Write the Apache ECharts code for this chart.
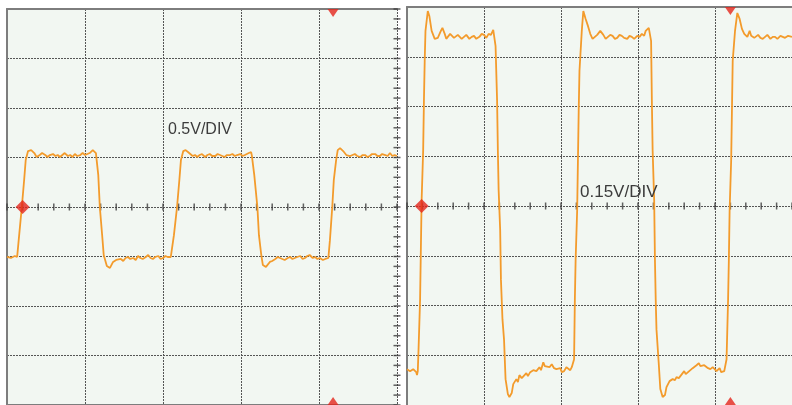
<!DOCTYPE html>
<html>
<head>
<meta charset="utf-8">
<script src="https://cdn.jsdelivr.net/npm/echarts@6/dist/echarts.min.js"></script>
<style>html,body{margin:0;padding:0;background:#fff;}#c{width:792px;height:405px;}</style>
</head>
<body>
<div id="c"></div>
<script>
// Units: x = horizontal divisions (0..5), y = vertical divisions (-4..4)
const leftLabel = '0.5V/DIV';
const rightLabel = '0.15V/DIV';

const leftWave = [
[0,-1.01],[0.05,-1.03],[0.10,-0.99],[0.13,-1.01],[0.15,-0.67],[0.19,0],[0.22,0.55],[0.24,0.95],[0.27,1.13],[0.31,1.15],
[0.35,1.09],[0.38,1.01],[0.42,1.05],[0.45,1.09],[0.49,1.05],[0.52,1.01],[0.55,1.05],[0.59,1.07],[0.62,1.03],[0.65,1.05],
[0.68,1.01],[0.71,1.05],[0.74,1.09],[0.78,1.03],[0.81,1.05],[0.84,1.01],[0.87,1.07],[0.90,1.03],[0.94,1.05],[0.97,1.09],
[1.00,1.05],[1.03,1.07],[1.06,1.09],[1.10,1.15],[1.12,1.13],[1.14,1.09],[1.17,0.65],[1.19,0],[1.22,-0.57],[1.24,-0.97],[1.28,-1.19],
[1.32,-1.23],[1.36,-1.11],[1.40,-1.07],[1.42,-1.03],[1.46,-1.05],[1.49,-1.09],[1.52,-1.03],[1.55,-1.01],[1.58,-1.05],[1.62,-1.03],
[1.65,-1.07],[1.68,-0.99],[1.71,-1.03],[1.74,-1.05],[1.78,-1.01],[1.81,-0.97],[1.84,-1.03],[1.87,-1.05],[1.90,-1.01],
[1.94,-0.99],[1.97,-1.05],[2.00,-1.03],[2.03,-0.99],[2.06,-1.01],[2.10,-1.01],[2.14,-0.57],[2.18,0],[2.21,0.55],[2.23,0.95],[2.26,1.13],[2.29,1.15],
[2.32,1.11],[2.35,1.07],[2.38,1.03],[2.41,1.05],[2.44,1.01],[2.47,1.05],[2.50,1.07],[2.54,1.01],[2.57,1.05],[2.60,1.07],[2.63,1.03],
[2.67,1.03],[2.70,1.07],[2.73,1.05],[2.76,1.03],[2.79,1.01],[2.82,1.05],[2.86,1.05],[2.89,1.07],[2.92,1.03],[2.95,1.05],
[2.99,1.07],[3.02,1.03],[3.05,1.05],[3.10,1.09],[3.13,1.11],[3.14,1.03],[3.17,0.65],[3.21,0],[3.23,-0.57],[3.26,-0.97],[3.28,-1.17],
[3.32,-1.21],[3.37,-1.11],[3.40,-1.09],[3.44,-1.05],[3.47,-1.01],[3.50,-1.03],[3.53,-1.05],[3.56,-1.07],[3.60,-1.03],[3.63,-1.01],
[3.66,-1.05],[3.69,-1.03],[3.72,-1.01],[3.76,-0.99],[3.79,-1.05],[3.82,-1.03],[3.85,-0.99],[3.88,-0.97],[3.92,-1.03],
[3.95,-1.01],[3.98,-1.05],[4.01,-1.03],[4.05,-1.07],[4.08,-1.05],[4.12,-1.03],[4.14,-0.67],[4.17,0],[4.19,0.55],[4.22,0.95],[4.24,1.15],[4.27,1.19],
[4.31,1.13],[4.35,1.05],[4.37,1.09],[4.40,1.03],[4.43,1.05],[4.46,1.07],[4.49,1.03],[4.53,1.01],[4.56,1.05],[4.59,1.05],
[4.62,1.01],[4.65,1.03],[4.68,1.07],[4.72,1.07],[4.75,1.03],[4.78,1.03],[4.81,1.07],[4.85,1.05],[4.88,1.03],
[4.91,1.09],[4.94,1.03],[4.97,1.05],[5.00,1.03]
];

const rightWave = [
[0,-3.28],[0.04,-3.32],[0.08,-3.28],[0.12,-3.34],[0.13,-3.40],[0.14,-3.32],[0.15,-2.88],[0.17,-1.88],[0.18,-0.88],[0.19,0.12],
[0.21,1.12],[0.22,2.12],[0.23,2.92],[0.24,3.52],[0.27,3.92],[0.29,3.82],[0.32,3.52],[0.36,3.36],[0.40,3.38],[0.44,3.52],
[0.46,3.58],[0.49,3.46],[0.51,3.36],[0.53,3.40],[0.56,3.46],[0.58,3.42],[0.61,3.38],[0.63,3.36],[0.66,3.44],[0.68,3.42],[0.71,3.36],[0.74,3.40],
[0.77,3.44],[0.81,3.36],[0.84,3.40],[0.87,3.42],[0.90,3.36],[0.94,3.40],[0.97,3.46],
[1.00,3.44],[1.03,3.38],[1.06,3.46],[1.09,3.44],[1.12,3.54],[1.14,3.56],[1.15,3.22],[1.17,2.12],[1.18,1.12],[1.19,0.32],[1.21,-0.48],[1.22,-1.48],
[1.24,-2.28],[1.26,-2.68],[1.28,-3.48],[1.31,-3.78],[1.33,-3.84],[1.36,-3.76],[1.38,-3.58],[1.42,-3.48],[1.44,-3.54],[1.46,-3.40],[1.49,-3.46],[1.51,-3.44],
[1.55,-3.36],[1.57,-3.42],[1.60,-3.34],[1.62,-3.38],[1.64,-3.30],[1.68,-3.32],[1.72,-3.24],[1.74,-3.30],[1.77,-3.14],[1.79,-3.22],[1.81,-3.20],[1.85,-3.24],[1.88,-3.18],[1.91,-3.26],[1.94,-3.28],
[1.99,-3.26],[2.01,-3.34],[2.04,-3.32],[2.07,-3.24],[2.09,-3.26],[2.12,-3.30],[2.14,-3.24],[2.17,-3.08],[2.18,-1.88],[2.19,-1.08],[2.21,-0.08],[2.22,0.92],[2.23,1.92],
[2.24,2.72],[2.27,3.52],[2.29,3.92],[2.32,3.76],[2.35,3.62],[2.38,3.46],[2.41,3.36],[2.44,3.40],[2.47,3.44],[2.51,3.52],[2.55,3.44],
[2.58,3.36],[2.60,3.38],[2.64,3.44],[2.67,3.42],[2.70,3.36],[2.73,3.38],[2.76,3.44],[2.79,3.42],[2.82,3.38],[2.86,3.36],[2.89,3.42],[2.92,3.40],[2.95,3.36],[2.99,3.42],[3.02,3.40],[3.05,3.46],[3.08,3.42],[3.10,3.52],[3.14,3.58],
[3.17,3.32],[3.18,2.12],[3.19,1.12],[3.21,0.12],[3.22,-1.08],[3.23,-1.88],[3.24,-2.48],[3.27,-3.18],[3.29,-3.68],[3.32,-3.84],
[3.35,-3.80],[3.37,-3.64],[3.41,-3.52],[3.43,-3.56],[3.45,-3.48],[3.48,-3.50],[3.50,-3.44],[3.53,-3.46],[3.55,-3.42],[3.57,-3.38],[3.60,-3.32],[3.62,-3.38],[3.65,-3.34],[3.68,-3.30],[3.71,-3.26],[3.76,-3.20],
[3.79,-3.16],[3.81,-3.22],[3.83,-3.22],[3.86,-3.20],[3.88,-3.24],[3.91,-3.26],[3.94,-3.28],[3.97,-3.24],[3.99,-3.26],[4.02,-3.32],[4.04,-3.30],[4.06,-3.26],[4.08,-3.34],[4.12,-3.32],[4.14,-3.28],[4.15,-3.08],
[4.17,-1.88],[4.18,-1.08],[4.19,-0.08],[4.21,0.92],[4.22,1.92],[4.23,2.92],[4.26,3.52],[4.29,3.88],[4.32,3.76],[4.35,3.56],
[4.38,3.46],[4.42,3.40],[4.45,3.52],[4.47,3.42],[4.49,3.44],[4.51,3.38],[4.53,3.42],[4.56,3.44],[4.59,3.38],[4.62,3.36],[4.65,3.40],[4.68,3.44],[4.72,3.36],[4.75,3.40],[4.78,3.40],[4.81,3.36],[4.85,3.42],[4.88,3.40],
[4.91,3.38],[4.95,3.42],[5.00,3.40]
];

// trigger-level diamond and trigger-position markers
const leftTrigLevel = [[0.2, 0]];
const rightTrigLevel = [[0.19, 0]];
const leftTrigTop = [[4.18, 4]];
const leftTrigBottom = [[4.18, -4]];
const rightTrigTop = [[4.2, 4]];
const rightTrigBottom = [[4.2, -4]];

// graticule minor tick positions (divisions, 5 per division)
const minorStep = 0.2;
const hTicks = [];
for (let i = 0; i <= 25; i++) hTicks.push([+(i * minorStep).toFixed(2), 0]);
const vTicks = [];
for (let i = -20; i <= 20; i++) vTicks.push([5, +(i * minorStep).toFixed(2)]);

const BG = '#f2f7f2';
const GRID_C = '#555555';
const BORDER_C = '#7d7d7d';
const TRACE_C = '#f39b2c';
const RED = '#e4261c';

const chart = echarts.init(document.getElementById('c'), null, {renderer: 'canvas'});

function xAx(grid, pos, split, line) {
  return {
    type: 'value', gridIndex: grid, min: 0, max: 5, interval: 1, position: pos,
    axisLine: {show: line, onZero: false, lineStyle: {color: BORDER_C, width: 2}},
    axisTick: {show: false}, axisLabel: {show: false},
    splitLine: {show: split, lineStyle: {color: GRID_C, width: 1, type: [2, 1]}}
  };
}
function yAx(grid) {
  return {
    type: 'value', gridIndex: grid, min: -4, max: 4, interval: 1,
    axisLine: {show: true, onZero: false, lineStyle: {color: BORDER_C, width: 2}},
    axisTick: {show: false}, axisLabel: {show: false},
    splitLine: {show: true, lineStyle: {color: GRID_C, width: 1, type: [2, 1]}}
  };
}

function tickSeries(xi, yi, data, size) {
  return {
    type: 'scatter', xAxisIndex: xi, yAxisIndex: yi, data: data, symbol: 'rect',
    symbolSize: size, itemStyle: {color: '#3a3a3a'}, silent: true, z: 3, clip: false
  };
}
function markerSeries(xi, yi, data, symbol, size, rotate, offset) {
  return {
    type: 'scatter', xAxisIndex: xi, yAxisIndex: yi, data: data, symbol: symbol,
    symbolSize: size, symbolRotate: rotate, symbolOffset: offset,
    itemStyle: {color: RED}, silent: true, z: 10, clip: false
  };
}

chart.setOption({
  animation: false,
  backgroundColor: '#ffffff',
  grid: [
    {left: 7, top: 9, width: 390, height: 396, show: true, backgroundColor: BG, borderWidth: 0},
    {left: 407, top: 7, width: 390, height: 400, show: true, backgroundColor: BG, borderWidth: 0}
  ],
  xAxis: [
    xAx(0, 'top', true, true),
    xAx(0, 'bottom', false, true),
    xAx(1, 'top', true, true)
  ],
  yAxis: [yAx(0), yAx(1)],
  series: [
    tickSeries(0, 0, hTicks, [1.5, 7]),
    tickSeries(0, 0, vTicks, [7, 1.5]),
    tickSeries(2, 1, hTicks, [1.5, 7]),
    {
      type: 'line', xAxisIndex: 0, yAxisIndex: 0, data: leftWave, showSymbol: false,
      lineStyle: {color: TRACE_C, width: 1.8}, z: 5, silent: true
    },
    {
      type: 'line', xAxisIndex: 2, yAxisIndex: 1, data: rightWave, showSymbol: false,
      lineStyle: {color: TRACE_C, width: 1.8}, z: 5, silent: true
    },
    markerSeries(0, 0, leftTrigLevel, 'diamond', 14, 0, [0, 0]),
    markerSeries(2, 1, rightTrigLevel, 'diamond', 14, 0, [0, 0]),
    markerSeries(0, 0, leftTrigTop, 'triangle', [11, 8], 180, [0, 4]),
    markerSeries(0, 0, leftTrigBottom, 'triangle', [11, 8], 0, [0, -4]),
    markerSeries(2, 1, rightTrigTop, 'triangle', [11, 8], 180, [0, 4]),
    markerSeries(2, 1, rightTrigBottom, 'triangle', [11, 8], 0, [0, -4])
  ],
  graphic: [
    {type: 'text', left: 168, top: 122, z: 20,
     style: {text: leftLabel, font: '16px "Liberation Sans", Arial, sans-serif', fill: '#3c3c3c'}},
    {type: 'text', left: 580, top: 184, z: 20,
     style: {text: rightLabel, font: '17px "Liberation Sans", Arial, sans-serif', fill: '#3c3c3c'}}
  ]
});
</script>
</body>
</html>
